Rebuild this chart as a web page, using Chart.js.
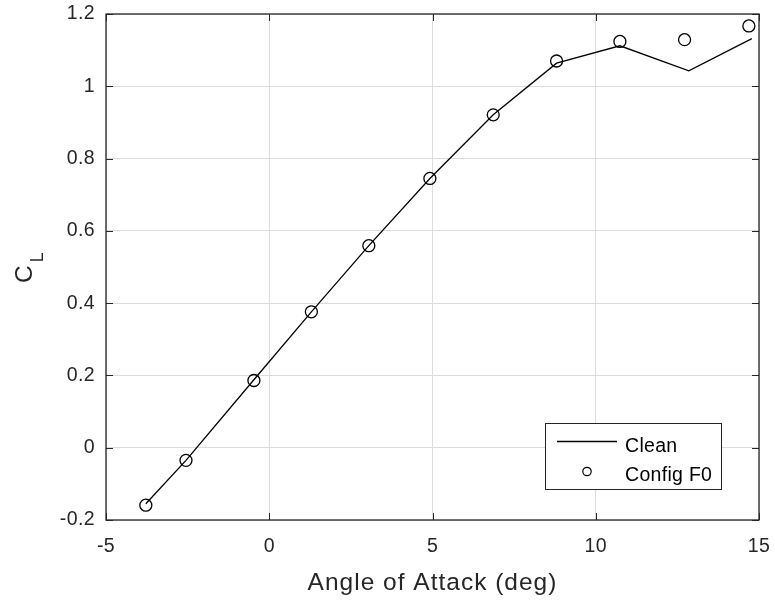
<!DOCTYPE html>
<html>
<head>
<meta charset="utf-8">
<script src="https://cdn.jsdelivr.net/npm/chart.js@4"></script>
<style>
  html, body { margin: 0; padding: 0; background: #fff; }
  #wrap { width: 775px; height: 603px; }
</style>
</head>
<body>
<div id="wrap"><canvas id="myChart" width="775" height="603"></canvas></div>
<script>
// Lift curve: angle of attack (deg) vs C_L
const cleanAlpha = [-3.78, -2.55, -0.47, 1.29, 3.05, 4.92, 6.86, 8.80, 10.74, 12.85, 14.78];
const cleanCL    = [-0.155, -0.035, 0.188, 0.376, 0.559, 0.745, 0.921, 1.064, 1.112, 1.043, 1.132];
const f0Alpha    = [-3.78, -2.55, -0.47, 1.29, 3.05, 4.92, 6.86, 8.80, 10.74, 12.72, 14.69];
const f0CL       = [-0.159, -0.035, 0.186, 0.376, 0.559, 0.745, 0.921, 1.070, 1.124, 1.129, 1.167];
const xTicks = [-5, 0, 5, 10, 15];
const yTicks = [-0.2, 0, 0.2, 0.4, 0.6, 0.8, 1, 1.2];

const ink = '#262626';
const fontName = '"Liberation Sans", Arial, sans-serif';

const toPoints = (xs, ys) => xs.map((v, i) => ({ x: v, y: ys[i] }));

// keep the plot box fixed, whatever the tick labels need
const noPad = s => {
  s.paddingLeft = s.paddingRight = s.paddingTop = s.paddingBottom = 0;
};

// box, inward ticks, legend and axis titles drawn the MATLAB way
const matlabAxes = {
  id: 'matlabAxes',
  beforeDraw(chart) {
    chart.ctx.letterSpacing = '0.4px';
  },
  afterDraw(chart) {
    const { ctx, chartArea: a, scales: { x, y } } = chart;
    ctx.save();
    ctx.strokeStyle = ink;
    ctx.lineWidth = 1.3;
    ctx.strokeRect(a.left, a.top, a.right - a.left, a.bottom - a.top);

    ctx.lineWidth = 1;
    ctx.beginPath();
    xTicks.forEach(v => {
      const px = Math.round(x.getPixelForValue(v)) + 0.5;
      ctx.moveTo(px, a.bottom); ctx.lineTo(px, a.bottom - 7);
      ctx.moveTo(px, a.top); ctx.lineTo(px, a.top + 7);
    });
    yTicks.forEach(v => {
      const py = Math.round(y.getPixelForValue(v)) + 0.5;
      ctx.moveTo(a.left, py); ctx.lineTo(a.left + 7, py);
      ctx.moveTo(a.right, py); ctx.lineTo(a.right - 7, py);
    });
    ctx.stroke();

    // legend
    const ds = chart.data.datasets;
    const lx = 545.5, ly = 423.5, lw = 176, lh = 66;
    ctx.fillStyle = '#fff';
    ctx.fillRect(lx, ly, lw, lh);
    ctx.strokeStyle = ink;
    ctx.lineWidth = 1;
    ctx.strokeRect(lx, ly, lw, lh);

    ctx.strokeStyle = ds[0].borderColor;
    ctx.lineWidth = 1.5;
    ctx.beginPath();
    ctx.moveTo(557, 441.5); ctx.lineTo(617, 441.5);
    ctx.stroke();

    ctx.strokeStyle = ds[1].pointBorderColor;
    ctx.lineWidth = 1.2;
    ctx.beginPath();
    ctx.arc(587, 471.5, 4.2, 0, Math.PI * 2);
    ctx.stroke();

    ctx.fillStyle = '#000';
    ctx.letterSpacing = '0.3px';
    ctx.font = '19.5px ' + fontName;
    ctx.textAlign = 'left';
    ctx.textBaseline = 'alphabetic';
    ctx.fillText(ds[0].label, 625, 451.5);
    ctx.fillText(ds[1].label, 625, 480.5);

    // x axis title
    ctx.fillStyle = ink;
    ctx.letterSpacing = '1px';
    ctx.font = '24.5px ' + fontName;
    ctx.textAlign = 'center';
    ctx.fillText('Angle of Attack (deg)', (a.left + a.right) / 2, 590);

    // y axis title C_L
    ctx.letterSpacing = '0px';
    ctx.translate(32, 283);
    ctx.rotate(-Math.PI / 2);
    ctx.textAlign = 'left';
    ctx.font = '24.5px ' + fontName;
    const cw = ctx.measureText('C').width;
    ctx.fillText('C', 0, 0);
    ctx.font = '17.5px ' + fontName;
    ctx.fillText('L', cw + 3, 11);
    ctx.restore();
  }
};

const ctx = document.getElementById('myChart').getContext('2d');
const myChart = new Chart(ctx, {
  type: 'scatter',
  data: {
    datasets: [
      {
        label: 'Clean',
        data: toPoints(cleanAlpha, cleanCL),
        showLine: true,
        borderColor: '#000',
        borderWidth: 1.3,
        pointRadius: 0,
        pointHoverRadius: 0
      },
      {
        label: 'Config F0',
        data: toPoints(f0Alpha, f0CL),
        showLine: false,
        pointStyle: 'circle',
        pointRadius: 6,
        pointBackgroundColor: 'rgba(0,0,0,0)',
        pointBorderColor: '#000',
        pointBorderWidth: 1.3
      }
    ]
  },
  options: {
    responsive: false,
    animation: false,
    layout: { autoPadding: false, padding: { left: 0, top: 14, right: 16, bottom: 0 } },
    plugins: {
      legend: { display: false },
      tooltip: { enabled: false }
    },
    scales: {
      x: {
        type: 'linear',
        min: -5,
        max: 15,
        afterBuildTicks: s => { s.ticks = xTicks.map(v => ({ value: v })); },
        afterFit: s => { s.height = 83; noPad(s); },
        border: { display: false },
        grid: { color: '#dcdcdc', lineWidth: 1, drawTicks: false },
        ticks: {
          color: ink,
          padding: 15,
          maxRotation: 0,
          font: { family: fontName, size: 19.5 },
          callback: v => String(v)
        }
      },
      y: {
        min: -0.2,
        max: 1.2,
        afterBuildTicks: s => { s.ticks = yTicks.map(v => ({ value: v })); },
        afterFit: s => { s.width = 106; noPad(s); },
        border: { display: false },
        grid: { color: '#dcdcdc', lineWidth: 1, drawTicks: false },
        ticks: {
          color: ink,
          padding: 11,
          font: { family: fontName, size: 19.5 },
          callback: v => String(Math.round(v * 10) / 10)
        }
      }
    }
  },
  plugins: [matlabAxes]
});
</script>
</body>
</html>
